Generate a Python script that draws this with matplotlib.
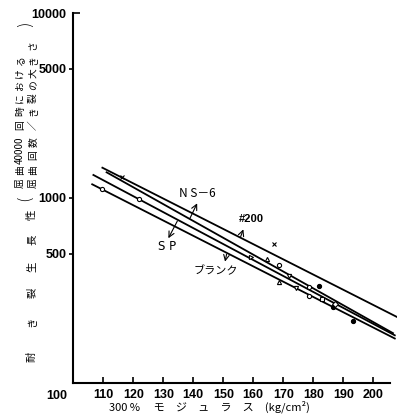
import numpy as np
import matplotlib
matplotlib.use("Agg")
import matplotlib.pyplot as plt
from matplotlib.ticker import FixedLocator, FixedFormatter

plt.rcParams['font.family'] = ['DejaVu Sans', 'Noto Sans CJK JP']
JP = ['Noto Sans CJK JP', 'DejaVu Sans']
NUM = ['Liberation Sans', 'DejaVu Sans']

# 直線 (両端の点)
line_names = ['#200', 'NS-6', 'SP', 'ブランク']
line_x = [[109.7, 207.8], [111.1, 206.6], [106.7, 207.2], [106.3, 207.2]]
line_y = [[1458, 228], [1377, 186], [1332, 181], [1186, 174]]

# 測定点
pt_x = [116.1, 109.5, 121.8, 166.9, 159.3, 164.7, 168.7, 172.0, 168.7,
        174.2, 178.5, 182.0, 178.5, 182.8, 186.5, 187.4, 193.3]
pt_y = [1303, 1123, 991, 564, 482, 466, 434, 377, 353,
        325, 330, 333, 295, 283, 256, 268, 216]
pt_m = ['x', 'o', 'o', 'x', '>', '^', 'o', 'v', '^',
        'v', 'o', 'o', 'o', 's', 'o', 'D', 'o']
pt_fill = [False, False, False, False, False, False, False, False, False,
           False, False, True, False, False, True, False, True]

xticks = [110, 120, 130, 140, 150, 160, 170, 180, 190, 200]
yticks = [500, 1000, 5000]

W, H = 397, 420
fig = plt.figure(figsize=(W / 100, H / 100), dpi=100)
ax = fig.add_axes([73.3 / W, 1 - 383 / H, (390 - 73.3) / W, (383 - 13) / H])
ax.set_yscale('log')
ax.set_xlim(100, 205.6)
ax.set_ylim(100, 10000)

for xs, ys in zip(line_x, line_y):
    ax.plot(xs, ys, color='black', lw=1.3, clip_on=False)

for x, y, m, f in zip(pt_x, pt_y, pt_m, pt_fill):
    ax.plot(x, y, marker=m, ms=3.0, mew=0.8, color='black',
            mfc='black' if f else 'white', ls='none', zorder=3)

for s in ['top', 'right']:
    ax.spines[s].set_visible(False)
for s in ['left', 'bottom']:
    ax.spines[s].set_linewidth(1.5)

ax.xaxis.set_major_locator(FixedLocator(xticks))
ax.set_xticklabels([str(t) for t in xticks], family=NUM, fontsize=9,
                   fontweight='bold')
ax.xaxis.set_minor_locator(FixedLocator([]))
ax.tick_params(axis='x', direction='in', length=4, width=1.2, pad=4)

ax.yaxis.set_major_locator(FixedLocator(yticks))
ax.yaxis.set_major_formatter(FixedFormatter([str(t) for t in yticks]))
ax.yaxis.set_minor_locator(FixedLocator([10000]))
ax.yaxis.set_minor_formatter(FixedFormatter(['10000']))
ax.tick_params(axis='y', which='major', direction='out', length=3, width=1.2, pad=2)
ax.tick_params(axis='y', which='minor', direction='in', length=5, width=1.2, pad=5)
for lab in ax.get_yticklabels(which='both'):
    lab.set_family(NUM)
    lab.set_fontsize(9)
    lab.set_fontweight('bold')

ax.annotate('100', xy=(100, 100), xytext=(-4, -5), textcoords='offset points',
            ha='right', va='top', fontsize=9, family=NUM, fontweight='bold')

# 線の名前と矢印
arrow = dict(arrowstyle='->', lw=0.8, color='black', shrinkA=0, shrinkB=0)
ax.annotate('', xy=(141.3, 936), xytext=(138.9, 777), arrowprops=arrow)
ax.annotate('', xy=(156.7, 677), xytext=(155.8, 618), arrowprops=arrow)
ax.annotate('', xy=(131.7, 606), xytext=(134.7, 751), arrowprops=arrow)
ax.annotate('', xy=(150.6, 453), xytext=(151.1, 496), arrowprops=arrow)
ax.text(141.4, 1064, 'N S－6', ha='center', va='center', fontsize=8.5, family=JP)
ax.text(159.2, 770, '#200', ha='center', va='center', fontsize=8, family=NUM,
        fontweight='bold')
ax.text(131.4, 550, 'S P', ha='center', va='center', fontsize=8.5)
ax.text(147.6, 403, 'ブランク', ha='center', va='center', fontsize=8, family=JP)

ax.set_xlabel('300 % 　モ　ジ　ュ　ラ　ス　(kg/cm²)', family=JP, fontsize=8,
              labelpad=0)
ax.xaxis.label.set_position((0.43, 0))


def fig_text(px, py, s, **kw):
    fig.text(px / W, 1 - py / H, s, rotation=90, ha='center', va='center', **kw)


# 縦軸の説明 (一文字ずつ)
main_chars = ['耐', 'き', '裂', '生', '長', '性']
main_pos = [357, 322, 293, 267, 240, 215]
for c, y in zip(main_chars, main_pos):
    fig_text(32, y, c, family=JP, fontsize=7.5)

left_col = ['屈', '曲', '40000', '回', '時', 'に', 'お', 'け', 'る']
left_pos = [183, 170, 150, 125, 111, 98, 85, 73, 60]
for c, y in zip(left_col, left_pos):
    fig_text(20, y, c, family=JP, fontsize=7)

right_col = ['屈', '曲', '回', '数', '／', 'き', '裂', 'の', '大', 'き', 'さ']
right_pos = [183, 170, 155, 142, 125, 111, 98, 85, 73, 60, 45]
for c, y in zip(right_col, right_pos):
    fig_text(33, y, c, family=JP, fontsize=7)

fig_text(25, 198, '(', fontsize=12, fontweight='light')
fig_text(25, 24, ')', fontsize=12, fontweight='light')

fig.savefig('out.png', dpi=100)
